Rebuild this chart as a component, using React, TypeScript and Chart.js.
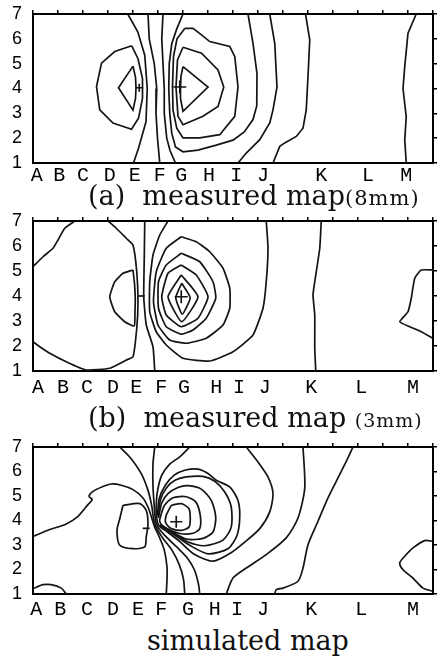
import React, { useEffect, useRef } from 'react';
import { Chart, registerables } from 'chart.js';

Chart.register(...registerables);

type Pt = [number, number];

// ---------- axis data ----------
const letters = ['A', 'B', 'C', 'D', 'E', 'F', 'G', 'H', 'I', 'J', 'K', 'L', 'M'];
const letterPosA = [0.15, 1.05, 2.0, 3.07, 4.07, 5.07, 5.93, 7.04, 8.13, 9.2, 11.53, 13.4, 14.93];
const letterPosB = [0.2, 1.2, 2.16, 3.2, 4.13, 5.13, 6.04, 7.33, 8.24, 9.27, 11.13, 13.13, 15.2];
const letterPosC = [0.13, 1.09, 2.16, 3.2, 4.2, 5.13, 6.2, 7.27, 8.16, 9.2, 11.13, 13.13, 15.2];
const topTickValues = [0, 1, 2, 3, 4, 5, 6, 7, 8, 9, 10, 11, 12, 13, 14, 15, 16];
const rowValues = [1, 2, 3, 4, 5, 6, 7];

// ---------- panel (a) measured map 8mm ----------
const aLeftInner: Pt[] = [[4.0, 4.9], [3.42, 4.03], [4.0, 3.13], [4.1, 3.6], [4.12, 4.03], [4.1, 4.45], [4.0, 4.9]];
const aLeftOuter: Pt[] = [[3.95, 5.72], [3.27, 5.49], [2.74, 5.02], [2.54, 4.08], [2.67, 3.14], [3.2, 2.61], [3.94, 2.36], [4.22, 2.8], [4.38, 3.6], [4.38, 4.4], [4.2, 5.2], [3.95, 5.72]];
const aLine1: Pt[] = [[3.79, 7], [4.19, 6.28], [4.47, 5.34], [4.57, 4.0], [4.52, 2.66], [4.22, 1.59], [4.02, 1.0]];
const aLine2: Pt[] = [[4.6, 7], [4.65, 6.0], [4.85, 5.0], [4.95, 4.0], [4.92, 3.0], [4.98, 2.0], [5.07, 1.0]];
const aLine3: Pt[] = [[5.2, 7], [5.15, 6.0], [5.2, 5.0], [5.25, 4.0], [5.25, 3.0], [5.35, 2.0], [5.48, 1.5], [5.7, 1.0]];
const aOuterU: Pt[] = [[6.0, 7], [5.75, 6.4], [5.55, 5.8], [5.45, 5.0], [5.43, 4.0], [5.47, 3.0], [5.55, 2.2], [5.7, 1.65], [6.0, 1.45], [6.6, 1.52], [7.33, 1.72], [8.0, 1.92], [8.45, 2.25], [8.8, 2.75], [8.95, 3.3], [8.96, 4.6], [8.8, 5.82], [8.6, 7]];
const aRing3: Pt[] = [[6.07, 6.42], [6.4, 6.42], [6.74, 6.16], [7.07, 5.89], [7.87, 5.69], [8.07, 5.29], [8.2, 4.06], [8.07, 2.88], [7.47, 2.14], [6.67, 2.01], [6.0, 2.01], [5.75, 2.4], [5.6, 3.14], [5.58, 4.06], [5.62, 5.3], [5.76, 6.0], [6.07, 6.42]];
const aRing2: Pt[] = [[6.0, 5.66], [6.74, 5.42], [7.4, 4.75], [7.63, 4.06], [7.4, 3.28], [6.8, 2.88], [6.0, 2.54], [5.8, 2.88], [5.72, 4.06], [5.78, 5.15], [6.0, 5.66]];
const aRing1: Pt[] = [[6.0, 4.88], [7.0, 4.06], [6.0, 3.08], [5.9, 3.6], [5.9, 4.06], [5.92, 4.5], [6.0, 4.88]];
const aLineJ: Pt[] = [[9.47, 7], [9.67, 5.82], [9.76, 4.06], [9.6, 3.14], [9.47, 2.61], [9.07, 1.94], [8.53, 1.4], [8.2, 1.0]];
const aLineK: Pt[] = [[10.9, 7], [11.07, 5.96], [11.0, 4.48], [10.93, 3.14], [10.8, 2.4], [10.53, 2.07], [10.07, 1.81], [9.87, 1.67], [9.6, 1.0]];
const aLineM: Pt[] = [[15.33, 7], [15.0, 6.23], [14.87, 4.89], [14.8, 4.0], [14.93, 2.86], [14.87, 1.93], [14.93, 1.0]];
const aBigPlus: Pt[] = [[5.87, 4.06]];
const aSmallPlus: Pt[] = [[4.25, 4.03]];

// ---------- panel (b) measured map 3mm ----------
const bCorner: Pt[] = [[0, 5.17], [0.4, 5.57], [0.8, 5.91], [1.0, 6.24], [1.27, 6.71], [1.67, 7.0]];
const bLeftBig: Pt[] = [[3.0, 7.0], [3.33, 6.71], [3.73, 6.31], [4.0, 6.04], [4.15, 4.97], [4.2, 3.77], [4.15, 2.71], [4.0, 1.57], [3.73, 1.44], [3.07, 1.11], [2.13, 1.04], [1.33, 1.37], [0.67, 1.71], [0.27, 1.97], [0, 2.17]];
const bLeftLoop: Pt[] = [[4.0, 5.04], [3.6, 4.91], [3.27, 4.57], [3.07, 3.97], [3.27, 3.37], [3.67, 2.97], [4.05, 2.8], [4.08, 3.4], [4.09, 3.91], [4.06, 4.5], [4.0, 5.04]];
const bLineF: Pt[] = [[4.47, 7], [4.45, 5.5], [4.43, 3.97], [4.53, 2.84], [4.8, 1.97], [4.87, 1.0]];
const bOuterU: Pt[] = [[5.4, 7], [5.07, 6.44], [4.8, 5.64], [4.67, 4.57], [4.67, 3.37], [4.93, 2.57], [5.33, 2.04], [6.0, 1.51], [7.07, 1.4], [8.0, 1.77], [8.8, 2.44], [9.2, 3.51], [9.33, 4.57], [9.4, 5.91], [9.33, 7]];
const bRing5: Pt[] = [[5.93, 6.37], [6.53, 6.17], [7.07, 5.77], [7.6, 5.11], [7.87, 4.31], [7.87, 3.51], [7.6, 2.84], [6.93, 2.31], [6.13, 2.11], [5.47, 2.24], [5.0, 2.84], [4.82, 3.77], [4.93, 4.97], [5.33, 5.91], [5.93, 6.37]];
const bRing4: Pt[] = [[5.93, 5.71], [6.67, 5.37], [7.2, 4.57], [7.31, 3.91], [6.93, 3.11], [6.4, 2.64], [5.93, 2.47], [5.33, 2.77], [5.02, 3.51], [5.02, 4.57], [5.33, 5.24], [5.93, 5.71]];
const bRing3: Pt[] = [[5.93, 5.24], [6.53, 4.84], [7.0, 3.97], [6.6, 3.11], [5.93, 2.77], [5.33, 3.24], [5.15, 3.97], [5.4, 4.91], [5.93, 5.24]];
const bRing2: Pt[] = [[5.93, 4.84], [6.6, 3.97], [5.95, 2.97], [5.4, 3.97], [5.93, 4.84]];
const bRing1: Pt[] = [[5.95, 4.51], [6.29, 3.93], [5.97, 3.27], [5.71, 3.93], [5.95, 4.51]];
const bLineK: Pt[] = [[11.53, 7], [11.47, 5.91], [11.27, 4.57], [11.2, 4.04], [11.27, 3.24], [11.27, 1.91], [11.31, 1.0]];
const bLineM: Pt[] = [[16, 5.04], [15.53, 5.04], [15.27, 4.71], [15.13, 3.91], [15.0, 3.37], [14.67, 2.97], [15.07, 2.77], [15.53, 2.57], [16, 2.31]];
const bBigPlus: Pt[] = [[5.93, 3.97]];
const bDash: Pt[] = [[4.33, 4.0]];

// ---------- panel (c) simulated map ----------
const cBump: Pt[] = [[0, 1.22], [0.4, 1.38], [0.73, 1.38], [1.13, 1.24], [1.33, 1.0]];
const cLeftThrough: Pt[] = [[0, 3.35], [0.67, 3.63], [1.33, 3.86], [1.8, 4.17], [2.2, 4.65], [2.37, 4.85], [2.24, 4.99], [2.4, 5.19], [2.8, 5.39], [3.13, 5.49], [3.53, 5.44], [4.0, 5.26], [4.4, 4.92], [4.62, 4.5], [4.75, 4.1], [4.86, 3.75], [5.05, 3.33], [5.25, 2.8], [5.36, 2.1], [5.36, 1.6], [5.33, 1.0]];
const cLeftLoop: Pt[] = [[3.6, 4.62], [4.27, 4.69], [4.53, 4.41], [4.6, 3.87], [4.53, 3.33], [4.47, 2.92], [4.0, 2.85], [3.47, 2.99], [3.36, 3.6], [3.47, 4.07], [3.6, 4.62]];
const cTop1Through: Pt[] = [[3.47, 7.0], [3.87, 6.59], [4.33, 5.91], [4.6, 5.23], [4.75, 4.6], [4.82, 4.1], [4.91, 3.76], [5.18, 3.3], [5.55, 2.8], [5.85, 2.2], [6.02, 1.6], [6.07, 1.0]];
const cTop2Through: Pt[] = [[4.87, 7.0], [4.8, 6.32], [4.8, 5.37], [4.85, 4.6], [4.89, 4.1], [4.97, 3.77], [5.3, 3.36], [5.75, 2.92], [6.15, 2.5], [6.45, 2.0], [6.62, 1.4], [6.67, 1.0]];
const cTop3Around: Pt[] = [[6.27, 7.0], [5.87, 6.6], [5.47, 6.3], [5.15, 5.85], [4.98, 5.2], [4.93, 4.6], [4.95, 4.1], [5.03, 3.8], [5.35, 3.55], [5.85, 3.16], [6.45, 2.62], [7.2, 2.34], [7.87, 2.65], [8.47, 3.12], [9.07, 3.67], [9.47, 4.35], [9.6, 5.1], [9.4, 5.78], [9.0, 6.39], [8.53, 7.0]];
const cRingA: Pt[] = [[5.53, 4.62], [5.93, 4.69], [6.24, 4.48], [6.29, 4.07], [6.24, 3.73], [5.93, 3.6], [5.53, 3.67], [5.31, 3.9], [5.33, 4.21], [5.53, 4.62]];
const cLoopB: Pt[] = [[5.06, 4.02], [5.25, 4.6], [5.6, 4.93], [6.13, 4.97], [6.51, 4.76], [6.69, 4.21], [6.67, 3.67], [6.4, 3.48], [5.87, 3.47], [5.33, 3.68], [5.1, 3.88], [5.06, 4.02]];
const cLoopC: Pt[] = [[5.02, 4.1], [5.15, 4.72], [5.4, 5.1], [5.8, 5.35], [6.2, 5.42], [6.73, 5.28], [7.13, 4.82], [7.31, 4.14], [7.2, 3.53], [6.8, 3.27], [6.13, 3.24], [5.5, 3.58], [5.09, 3.84]];
const cLoopD: Pt[] = [[5.0, 4.16], [5.1, 4.85], [5.35, 5.35], [5.7, 5.65], [6.13, 5.78], [6.8, 5.8], [7.27, 5.6], [7.67, 5.16], [7.93, 4.55], [7.93, 3.73], [7.6, 3.2], [6.87, 2.97], [6.2, 3.12], [5.6, 3.48], [5.07, 3.82]];
const cLoopE: Pt[] = [[4.98, 4.22], [5.05, 4.9], [5.3, 5.45], [5.65, 5.85], [6.07, 6.05], [6.6, 6.1], [7.0, 5.92], [7.33, 5.64], [7.87, 5.37], [8.2, 4.82], [8.27, 4.14], [8.16, 3.39], [7.8, 2.85], [7.0, 2.64], [6.3, 2.97], [5.7, 3.38], [5.05, 3.8]];
const cLineI: Pt[] = [[7.73, 1.0], [8.0, 1.65], [8.53, 2.06], [9.33, 2.61], [10.13, 3.29], [10.6, 4.1], [10.87, 5.33], [10.8, 7.0]];
const cLineJK: Pt[] = [[12.8, 7.0], [12.53, 6.41], [12.13, 5.6], [11.8, 4.92], [11.4, 3.97], [11.0, 3.01], [10.8, 2.06], [10.6, 1.52], [10.0, 1.24], [9.73, 1.18], [9.67, 1.0]];
const cLineM: Pt[] = [[16, 3.15], [15.67, 3.18], [15.2, 2.88], [14.87, 2.54], [14.67, 2.27], [14.8, 1.99], [15.2, 1.65], [15.6, 1.24], [16, 1.11]];
const cBigPlus: Pt[] = [[5.73, 3.95]];
const cDash: Pt[] = [[4.53, 3.68]];

// ---------- rendering ----------
interface MarkerSet { pts: Pt[]; style: 'cross' | 'line'; r: number }
interface PanelCfg {
  top: number;
  height: number;
  topH: number;
  bottomH: number;
  xPad: number;
  letterPos: number[];
  contours: Pt[][];
  markers: MarkerSet[];
  tension: number;
}

const INK = '#141414';

function buildChart(canvas: HTMLCanvasElement, cfg: PanelCfg) {
  const toXY = (arr: Pt[]) => arr.map(([x, y]) => ({ x, y }));
  const lineSets = cfg.contours.map((c) => ({
    data: toXY(c),
    showLine: true,
    borderColor: INK,
    borderWidth: 1.7,
    pointRadius: 0,
    tension: cfg.tension,
    fill: false,
    xAxisID: 'x',
    yAxisID: 'y',
  }));
  const markerSets = cfg.markers.map((m) => ({
    data: toXY(m.pts),
    showLine: false,
    pointStyle: m.style,
    pointRadius: m.r,
    pointBorderWidth: 1.7,
    pointBorderColor: INK,
    pointBackgroundColor: INK,
    borderColor: INK,
    xAxisID: 'x',
    yAxisID: 'y',
  }));
  const border = { display: true, color: '#000', width: 2 };
  return new Chart(canvas, {
    type: 'scatter',
    data: { datasets: [...lineSets, ...markerSets] as any },
    options: {
      responsive: false,
      animation: false,
      devicePixelRatio: 1,
      events: [],
      layout: { padding: 0 },
      plugins: { legend: { display: false }, tooltip: { enabled: false }, title: { display: false } },
      scales: {
        x: {
          type: 'linear',
          position: 'bottom',
          min: 0,
          max: 16,
          border,
          grid: { display: false, drawTicks: false, tickLength: 0 },
          ticks: {
            autoSkip: false,
            maxRotation: 0,
            minRotation: 0,
            padding: cfg.xPad,
            color: '#000',
            font: { family: 'Liberation Mono', size: 20 },
            callback: (value: any) => {
              const i = cfg.letterPos.findIndex((p) => Math.abs(p - Number(value)) < 1e-6);
              return i >= 0 ? letters[i] : '';
            },
          },
          afterBuildTicks: (s: any) => {
            s.ticks = cfg.letterPos.map((value) => ({ value }));
          },
          afterFit: (s: any) => {
            s.height = cfg.bottomH;
            s.paddingLeft = 0;
            s.paddingRight = 0;
          },
        },
        x2: {
          type: 'linear',
          position: 'top',
          min: 0,
          max: 16,
          border,
          grid: { display: true, drawOnChartArea: false, drawTicks: true, tickLength: 4, color: '#000', lineWidth: 1.5 },
          ticks: { display: false },
          afterBuildTicks: (s: any) => {
            s.ticks = topTickValues.map((value) => ({ value }));
          },
          afterFit: (s: any) => {
            s.height = cfg.topH;
            s.paddingLeft = 0;
            s.paddingRight = 0;
          },
        },
        y: {
          type: 'linear',
          position: 'left',
          min: 1,
          max: 7,
          border,
          grid: { display: false, drawTicks: false, tickLength: 0 },
          ticks: {
            autoSkip: false,
            padding: 11,
            color: '#000',
            font: { family: 'Liberation Sans', size: 18 },
          },
          afterBuildTicks: (s: any) => {
            s.ticks = rowValues.map((value) => ({ value }));
          },
          afterFit: (s: any) => {
            s.width = 33;
            s.paddingTop = 0;
            s.paddingBottom = 0;
          },
        },
        y2: {
          type: 'linear',
          position: 'right',
          min: 1,
          max: 7,
          border,
          grid: { display: true, drawOnChartArea: false, drawTicks: true, tickLength: 4, color: '#000', lineWidth: 1.5 },
          ticks: { display: false, autoSkip: false },
          afterBuildTicks: (s: any) => {
            s.ticks = rowValues.map((value) => ({ value }));
          },
          afterFit: (s: any) => {
            s.width = 11;
            s.paddingTop = 0;
            s.paddingBottom = 0;
          },
        },
      },
    } as any,
  });
}

function Panel({ cfg }: { cfg: PanelCfg }) {
  const ref = useRef<HTMLCanvasElement>(null);
  useEffect(() => {
    if (!ref.current) return;
    const chart = buildChart(ref.current, cfg);
    return () => chart.destroy();
  }, []);
  return (
    <canvas
      ref={ref}
      width={444}
      height={cfg.height}
      style={{ position: 'absolute', left: 0, top: cfg.top, width: 444, height: cfg.height }}
    />
  );
}

const panelA: PanelCfg = {
  top: 0,
  height: 186,
  topH: 14,
  bottomH: 23,
  xPad: 1,
  letterPos: letterPosA,
  contours: [aLeftInner, aLeftOuter, aLine1, aLine2, aLine3, aOuterU, aRing3, aRing2, aRing1, aLineJ, aLineK, aLineM],
  markers: [
    { pts: aBigPlus, style: 'cross', r: 6.5 },
    { pts: aSmallPlus, style: 'cross', r: 4 },
  ],
  tension: 0,
};

const panelB: PanelCfg = {
  top: 205,
  height: 190,
  topH: 16,
  bottomH: 24,
  xPad: 5,
  letterPos: letterPosB,
  contours: [bCorner, bLeftBig, bLeftLoop, bLineF, bOuterU, bRing5, bRing4, bRing3, bRing2, bRing1, bLineK, bLineM],
  markers: [
    { pts: bBigPlus, style: 'cross', r: 6.5 },
    { pts: bDash, style: 'line', r: 3.5 },
  ],
  tension: 0.15,
};

const panelC: PanelCfg = {
  top: 432,
  height: 185,
  topH: 15,
  bottomH: 23,
  xPad: 4,
  letterPos: letterPosC,
  contours: [cBump, cLeftThrough, cLeftLoop, cTop1Through, cTop2Through, cTop3Around, cRingA, cLoopB, cLoopC, cLoopD, cLoopE, cLineI, cLineJK, cLineM],
  markers: [
    { pts: cBigPlus, style: 'cross', r: 6 },
    { pts: cDash, style: 'line', r: 3.5 },
  ],
  tension: 0.25,
};

const serif = "'DejaVu Serif', 'Liberation Serif', serif";

export default function App() {
  return (
    <div
      style={{
        position: 'fixed',
        left: 0,
        top: 0,
        width: 444,
        height: 659,
        background: '#fff',
        overflow: 'hidden',
        color: '#111',
      }}
    >
      <Panel cfg={panelA} />
      <Panel cfg={panelB} />
      <Panel cfg={panelC} />
      <div style={{ position: 'absolute', left: 88, top: 182, fontFamily: serif, fontSize: 27, lineHeight: '27px', whiteSpace: 'pre' }}>
        {'(a)  measured map'}
        <span style={{ fontSize: 21, letterSpacing: 1 }}>(8mm)</span>
      </div>
      <div style={{ position: 'absolute', left: 88, top: 404, fontFamily: serif, fontSize: 27, lineHeight: '27px', whiteSpace: 'pre' }}>
        {'(b)  measured map '}
        <span style={{ fontSize: 19, letterSpacing: 1 }}>(3mm)</span>
      </div>
      <div style={{ position: 'absolute', left: 147, top: 627, fontFamily: serif, fontSize: 27, lineHeight: '27px', whiteSpace: 'pre' }}>
        {'simulated map'}
      </div>
    </div>
  );
}
